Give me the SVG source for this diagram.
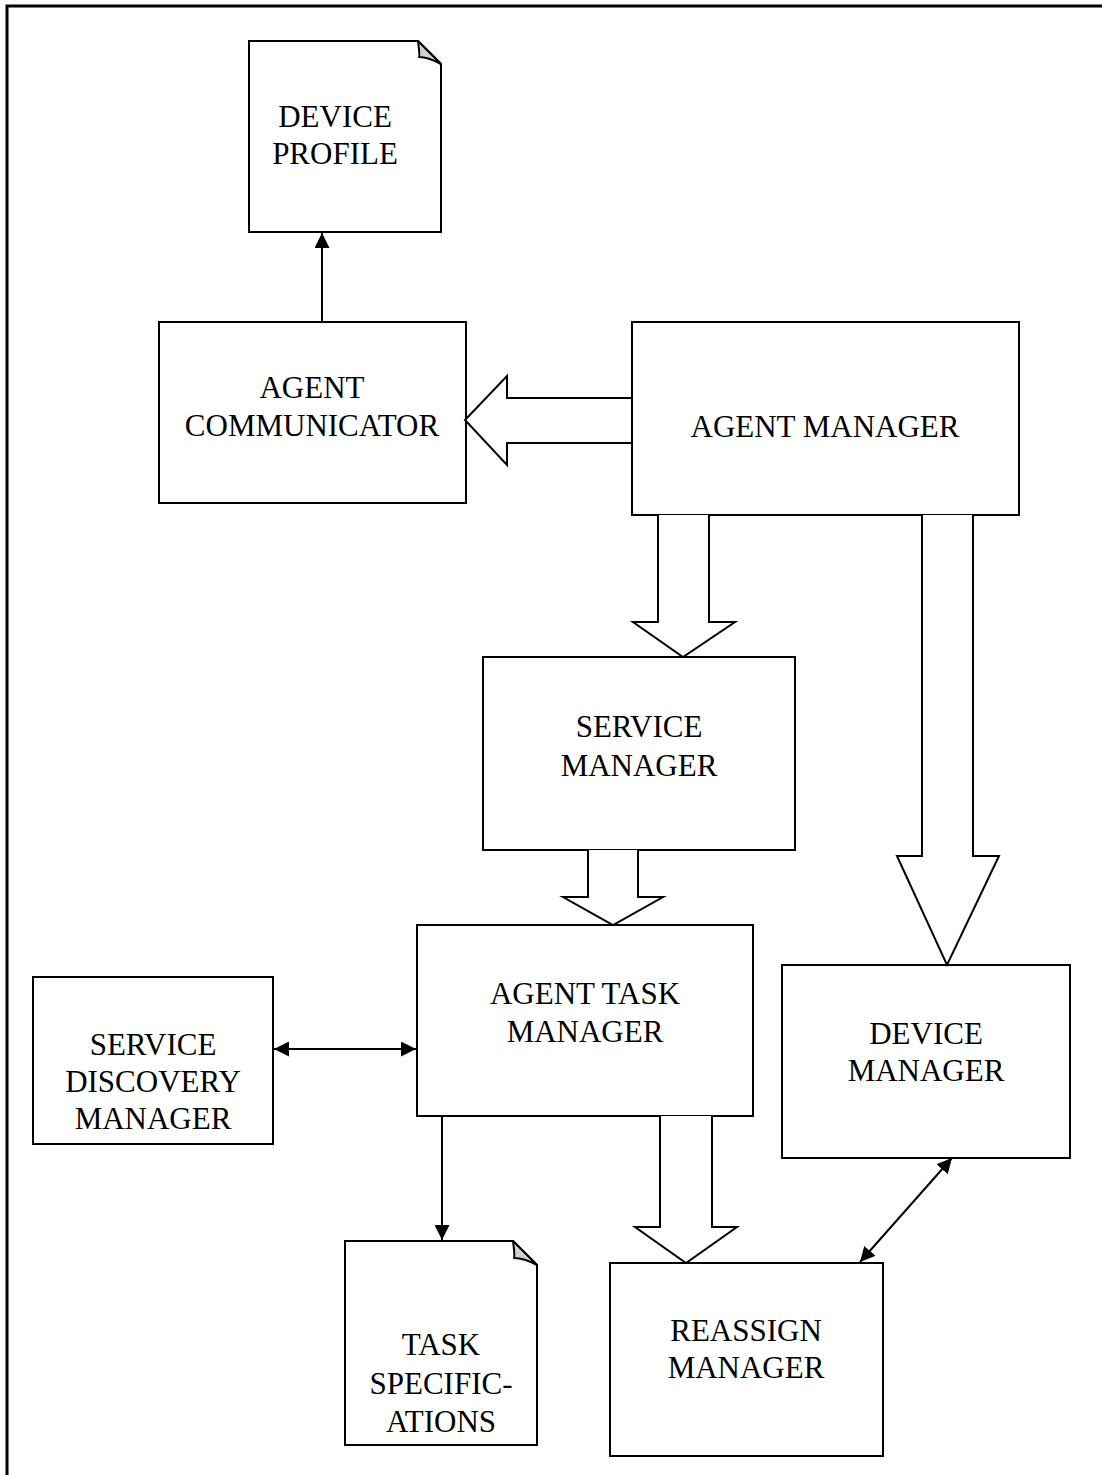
<svg xmlns="http://www.w3.org/2000/svg" width="1102" height="1475" viewBox="0 0 1102 1475">
<defs>
<style>
.box{fill:#fff;stroke:#000;stroke-width:2}
.fold{fill:#d0d0d0;stroke:#000;stroke-width:2;stroke-linejoin:round}
.blk{fill:#fff;stroke:#000;stroke-width:2;stroke-linejoin:miter}
.ln{fill:none;stroke:#000;stroke-width:2}
text{font-family:"Liberation Serif","Times New Roman",serif;font-size:31px;fill:#000;text-anchor:middle}
</style>
<marker id="ah2" viewBox="0 0 10 10" refX="10" refY="5" markerWidth="15" markerHeight="15" markerUnits="userSpaceOnUse" orient="auto-start-reverse">
<path d="M0,0 L10,5 L0,10 z" fill="#000"/>
</marker>
</defs>
<rect width="1102" height="1475" fill="#fff"/>
<path d="M7,1480 V6 H1110" fill="none" stroke="#000" stroke-width="3"/>

<g id="device-profile">
<path class="box" d="M249,41 H418 L441,64 V232 H249 Z"/>
<path class="fold" d="M418,41 Q420,56 419,57 Q428,57 441,64 Z"/>
<text x="335" y="127">DEVICE</text>
<text x="335" y="164">PROFILE</text>
</g>

<g id="agent-communicator">
<rect class="box" x="159" y="322" width="307" height="181"/>
<text x="312" y="398">AGENT</text>
<text x="312" y="436">COMMUNICATOR</text>
</g>

<g id="agent-manager">
<rect class="box" x="632" y="322" width="387" height="193"/>
<text x="825" y="437">AGENT MANAGER</text>
</g>

<g id="service-manager">
<rect class="box" x="483" y="657" width="312" height="193"/>
<text x="639" y="737">SERVICE</text>
<text x="639" y="776">MANAGER</text>
</g>

<g id="agent-task-manager">
<rect class="box" x="417" y="925" width="336" height="191"/>
<text x="585" y="1004">AGENT TASK</text>
<text x="585" y="1042">MANAGER</text>
</g>

<g id="service-discovery-manager">
<rect class="box" x="33" y="977" width="240" height="167"/>
<text x="153" y="1055">SERVICE</text>
<text x="153" y="1092">DISCOVERY</text>
<text x="153" y="1129">MANAGER</text>
</g>

<g id="device-manager">
<rect class="box" x="782" y="965" width="288" height="193"/>
<text x="926" y="1044">DEVICE</text>
<text x="926" y="1081">MANAGER</text>
</g>

<g id="task-specifications">
<path class="box" d="M345,1241 H513 L537,1265 V1445 H345 Z"/>
<path class="fold" d="M513,1241 Q515,1256 514,1258 Q524,1258 537,1265 Z"/>
<text x="441" y="1355">TASK</text>
<text x="441" y="1394">SPECIFIC-</text>
<text x="441" y="1432">ATIONS</text>
</g>

<g id="reassign-manager">
<rect class="box" x="610" y="1263" width="273" height="193"/>
<text x="746" y="1341">REASSIGN</text>
<text x="746" y="1378">MANAGER</text>
</g>

<g id="connectors">
<line class="ln" x1="322" y1="322" x2="322" y2="233" marker-end="url(#ah2)"/>
<path class="blk" d="M632,398 H507 V376 L465,420 L507,465 V443 H632 Z"/>
<path class="blk" d="M658,515 V622 H633 L683,657 L735,622 H709 V515"/>
<path class="blk" d="M922,515 V856 H897 L947,965 L999,856 H973 V515"/>
<path class="blk" d="M588,850 V897 H563 L613,925 L663,897 H638 V850"/>
<path class="blk" d="M660,1116 V1227 H635 L686,1263 L737,1227 H712 V1116"/>
<line class="ln" x1="274" y1="1049" x2="416" y2="1049" marker-start="url(#ah2)" marker-end="url(#ah2)"/>
<line class="ln" x1="442" y1="1116" x2="442" y2="1240" marker-end="url(#ah2)"/>
<line class="ln" x1="952" y1="1158" x2="860" y2="1262" marker-start="url(#ah2)" marker-end="url(#ah2)"/>
</g>
</svg>
